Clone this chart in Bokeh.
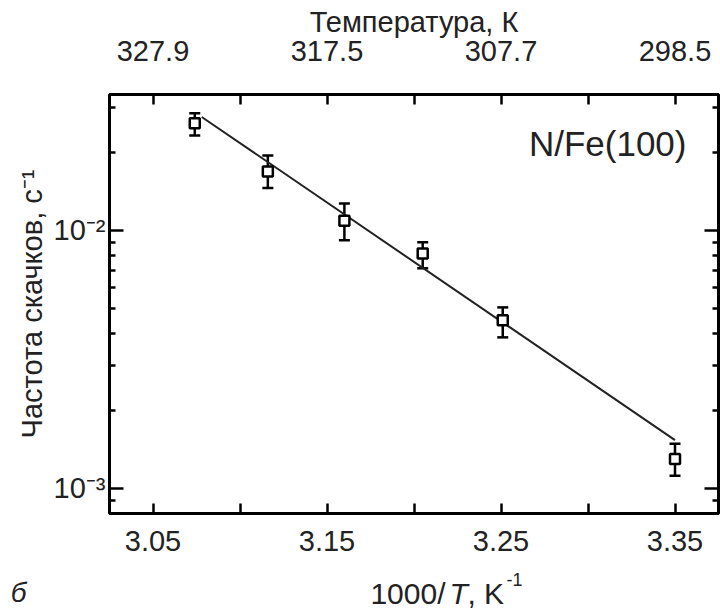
from bokeh.plotting import figure
from bokeh.layouts import column
from bokeh.models import (LogAxis, LinearAxis, FixedTicker, Whisker, TeeHead,
                          ColumnDataSource, Label, Range1d)
from bokeh.core.properties import value
from bokeh.embed import file_html
from bokeh.resources import INLINE

# ---- data ----
inv_T = [3.074, 3.116, 3.160, 3.205, 3.251, 3.350]          # 1000/T, K^-1
rate = [0.0260, 0.0169, 0.0109, 0.00814, 0.00448, 0.00130]   # jump rate, s^-1
rate_hi = [0.0284, 0.0195, 0.0127, 0.00899, 0.00503, 0.00149]
rate_lo = [0.0233, 0.0146, 0.00915, 0.00713, 0.00385, 0.00112]
fit_x = [3.078, 3.350]
fit_y = [0.0275, 0.00154]

x_ticks = [3.05, 3.15, 3.25, 3.35]
x_minor = [3.10, 3.20, 3.30]
y_ticks = [1e-3, 1e-2]
y_minor = [9e-4, 2e-3, 3e-3, 4e-3, 5e-3, 6e-3, 7e-3, 8e-3, 9e-3, 2e-2, 3e-2]
y_tick_labels = {1e-3: "10\u207b\u00b3", 1e-2: "10\u207b\u00b2"}
top_tick_labels = {t: f"{1000 / t:.1f}" for t in x_ticks}

FONT = "Liberation Sans"
TXT = "#222222"
X_RANGE = (3.025, 3.375)

p = figure(width=720, height=568, output_backend="svg", toolbar_location=None,
           x_range=Range1d(*X_RANGE), y_range=Range1d(8.0e-4, 0.0336),
           y_axis_type="log", min_border_left=109, min_border_top=94,
           min_border_bottom=55, min_border_right=0)
p.grid.visible = False
p.outline_line_color = "black"
p.outline_line_width = 3
p.background_fill_color = "white"
p.border_fill_color = "white"

def style_common(ax):
    ax.major_tick_out = 0
    ax.minor_tick_out = 0
    ax.major_tick_line_width = 2.5
    ax.minor_tick_line_width = 2.5
    ax.axis_line_width = 3
    ax.major_label_text_font = FONT
    ax.major_label_text_font_size = "29px"
    ax.major_label_text_color = TXT
    ax.axis_label_text_font = FONT
    ax.axis_label_text_font_size = "29px"
    ax.axis_label_text_font_style = "normal"
    ax.axis_label_text_color = TXT

def style_x(ax):
    style_common(ax)
    ax.ticker = FixedTicker(ticks=x_ticks, minor_ticks=x_minor)
    ax.major_tick_in = 10
    ax.minor_tick_in = 10

def style_y(ax):
    style_common(ax)
    ax.ticker = FixedTicker(ticks=y_ticks, minor_ticks=y_minor)
    ax.major_tick_in = 14
    ax.minor_tick_in = 6

# bottom axis
bx = p.xaxis[0]
style_x(bx)
bx.major_label_standoff = 17

# left axis
ly = p.yaxis[0]
style_y(ly)
ly.major_label_overrides = y_tick_labels
ly.major_label_standoff = 4
ly.axis_label = "Частота скачков, с\u207b\u00b9"
ly.axis_label_standoff = 3

# top axis (temperature)
tx = LinearAxis()
style_x(tx)
tx.major_label_overrides = top_tick_labels
tx.major_label_standoff = 34
tx.axis_label = "Температура, К"
tx.axis_label_standoff = 0
p.add_layout(tx, "above")

# right axis (ticks only)
ry = LogAxis()
style_y(ry)
ry.major_label_text_font_size = "1px"
ry.major_label_text_alpha = 0
ry.major_label_standoff = 0
p.add_layout(ry, "right")

# error bars
src = ColumnDataSource(dict(x=inv_T, y=rate, hi=rate_hi, lo=rate_lo))
wh = Whisker(source=src, base="x", upper="hi", lower="lo", line_width=2.5,
             line_color="black", level="underlay",
             upper_head=TeeHead(size=11, line_width=2.5, line_color="black"),
             lower_head=TeeHead(size=11, line_width=2.5, line_color="black"))
p.add_layout(wh)

# fit line
p.line(fit_x, fit_y, line_width=2, line_color="#222222")

# data points
p.scatter("x", "y", source=src, marker="square", size=10, fill_color="white",
          line_color="black", line_width=2.5)

# panel label inside plot
p.add_layout(Label(x=3.3566, y=0.0217, text="N/Fe(100)", text_align="right",
                   text_baseline="alphabetic", text_font=FONT,
                   text_font_size="35px", text_color=TXT))

# ---- strip below: x-axis title (with italic T) and panel letter ----
q = figure(width=720, height=44, output_backend="svg", toolbar_location=None,
           x_range=Range1d(*X_RANGE), y_range=Range1d(0, 44),
           x_axis_location=None, y_axis_location="left",
           min_border_left=109, min_border_right=2, min_border_top=0,
           min_border_bottom=0)
q.grid.visible = False
q.outline_line_color = None
q.background_fill_color = "white"
q.border_fill_color = "white"

# panel letter as a (tick-less) axis label on the left of the strip
qa = q.yaxis[0]
qa.ticker = FixedTicker(ticks=[20], minor_ticks=[])
qa.major_label_overrides = {20: "б"}
qa.axis_line_color = None
qa.major_tick_line_color = None
qa.minor_tick_line_color = None
qa.major_label_standoff = 77
qa.major_label_text_font = FONT
qa.major_label_text_font_style = "italic"
qa.major_label_text_font_size = "28px"
qa.major_label_text_color = TXT

q.text(x=[3.2181], y=[19], text=["1000/"], text_align="right",
       text_baseline="alphabetic", text_font=value(FONT),
       text_font_size="30px", text_color=TXT)
q.text(x=[3.2204], y=[19], text=["T"], text_align="left",
       text_baseline="alphabetic", text_font=value(FONT),
       text_font_style="italic", text_font_size="30px", text_color=TXT)
q.text(x=[3.2307], y=[19], text=[", K"], text_align="left",
       text_baseline="alphabetic", text_font=value(FONT),
       text_font_size="30px", text_color=TXT)
q.text(x=[3.2531], y=[33], text=["-1"], text_align="left",
       text_baseline="alphabetic", text_font=value(FONT),
       text_font_size="18px", text_color=TXT)

layout = column(p, q, spacing=0)
open("out.html", "w").write(file_html(layout, INLINE))
